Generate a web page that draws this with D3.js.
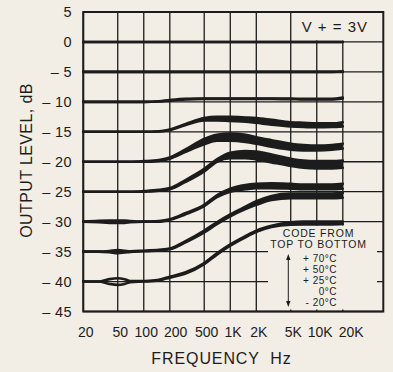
<!DOCTYPE html>
<html><head><meta charset="utf-8">
<script src="https://cdn.jsdelivr.net/npm/d3@7"></script>
<style>
html,body{margin:0;padding:0;background:#f2eee5;}
svg{display:block;}
text{font-family:"Liberation Sans",Arial,Helvetica,sans-serif;fill:#1c1c1c;}
</style></head><body>
<svg id="c" width="393" height="372"></svg>
<script>
// ---------------- data ----------------
const freqs = [20,30,40,50,60,70,100,150,200,300,500,700,1000,1500,2000,3000,5000,7000,10000,15000,20000];

// each input-level group: upper trace (+70°C side) and lower trace (-20°C side), dB
const g0Top  = [0,0,0,0,0,0,0,0,0,0,0,0,0,0,0,0,0,0,0,0,0];
const g0Bot  = [0,0,0,0,0,0,0,0,0,0,0,0,0,0,0,0,0,0,0,0,0];
const g5Top  = [-5,-5,-5,-5,-5,-5,-5,-5,-5,-5,-5,-5,-5,-5,-5,-5,-5,-5,-5,-5,-4.9];
const g5Bot  = [-5,-5,-5,-5,-5,-5,-5,-5,-5,-5,-5,-5,-5,-5,-5,-5,-5,-5,-5,-5,-5];
const g10Top = [-10,-10,-10,-10,-10,-10,-10,-9.9,-9.7,-9.5,-9.45,-9.45,-9.45,-9.45,-9.45,-9.45,-9.45,-9.5,-9.5,-9.5,-9.3];
const g10Bot = [-10,-10,-10,-10,-10,-10,-10,-9.95,-9.8,-9.6,-9.5,-9.5,-9.5,-9.5,-9.5,-9.5,-9.55,-9.6,-9.6,-9.6,-9.45];
const g15Top = [-15,-15,-15,-15,-15,-15,-15,-14.9,-14.6,-13.75,-12.7,-12.5,-12.5,-12.6,-12.7,-13.0,-13.4,-13.5,-13.6,-13.6,-13.4];
const g15Bot = [-15,-15,-15,-15,-15,-15,-15,-14.95,-14.7,-13.9,-13.1,-13.1,-13.2,-13.3,-13.5,-13.8,-14.1,-14.2,-14.25,-14.2,-14.1];
const g20Top = [-20,-20,-20,-20,-20,-20,-19.9,-19.7,-19.3,-18.0,-16.2,-15.5,-15.3,-15.5,-15.9,-16.4,-17.0,-17.2,-17.3,-17.2,-17.0];
const g20Bot = [-20,-20,-20,-20,-20,-20,-20,-19.85,-19.5,-18.4,-17.1,-16.5,-16.5,-16.7,-17.0,-17.5,-18.0,-18.1,-18.1,-18.0,-17.8];
const g25Top = [-25,-25,-25,-25,-25,-25,-24.9,-24.7,-24.4,-23.1,-21.2,-19.6,-18.5,-18.2,-18.3,-18.8,-19.5,-19.8,-19.9,-19.9,-19.8];
const g25Bot = [-25,-25,-25,-25,-25,-25,-25,-24.85,-24.6,-23.4,-21.6,-20.0,-19.4,-19.4,-19.6,-20.1,-20.7,-21.0,-21.1,-21.1,-21.0];
const g30Top = [-30,-29.85,-29.8,-29.8,-29.8,-29.9,-30,-29.9,-29.6,-28.6,-27.2,-25.6,-24.5,-23.9,-23.7,-23.6,-23.7,-23.8,-23.8,-23.8,-23.7];
const g30Bot = [-30,-30.1,-30.2,-30.2,-30.2,-30.1,-30,-30,-29.7,-28.8,-27.4,-25.9,-25.0,-24.6,-24.4,-24.4,-24.5,-24.6,-24.6,-24.6,-24.5];
const g35Top = [-35,-35,-34.9,-34.75,-34.85,-34.95,-34.85,-34.7,-34.5,-33.3,-31.5,-30.1,-28.8,-27.5,-26.6,-25.7,-25.3,-25.3,-25.3,-25.3,-25.2];
const g35Bot = [-35,-35,-35.1,-35.25,-35.15,-35.05,-34.95,-34.8,-34.6,-33.5,-31.8,-30.4,-29.1,-27.9,-27.2,-26.4,-26.1,-26.1,-26.1,-26.1,-26.0];
const g40Top = [-40,-40,-39.6,-39.45,-39.6,-39.9,-39.9,-39.7,-39.2,-38.5,-36.9,-35.3,-33.8,-32.4,-31.5,-30.7,-30.1,-30.0,-30.0,-30.0,-30.0];
const g40Bot = [-40,-40,-40.4,-40.55,-40.4,-40.1,-40,-39.8,-39.35,-38.7,-37.1,-35.5,-34.0,-32.6,-31.7,-30.9,-30.5,-30.45,-30.45,-30.45,-30.4];

const xTickValues = [20,50,100,200,500,1000,2000,5000,10000,20000];
const xTickLabels = ["20","50","100","200","500","1K","2K","5K","10K","20K"];
const yTickValues = [5,0,-5,-10,-15,-20,-25,-30,-35,-40,-45];
const yTickLabels = ["5","0","\u2013 5","\u2013 10","\u2013 15","\u2013 20","\u2013 25","\u2013 30","\u2013 35","\u2013 40","\u2013 45"];
const xTitle = "FREQUENCY  Hz";
const yTitle = "OUTPUT LEVEL, dB";
const supplyLabel = "V + = 3V";
const legendTitle = ["CODE FROM","TOP TO BOTTOM"];
const legendItems = ["+ 70\u00B0C","+ 50\u00B0C","+ 25\u00B0C","0\u00B0C","- 20\u00B0C"];

const groups = [
  [g0Top,g0Bot],[g5Top,g5Bot],[g10Top,g10Bot],[g15Top,g15Bot],[g20Top,g20Bot],
  [g25Top,g25Bot],[g30Top,g30Bot],[g35Top,g35Bot],[g40Top,g40Bot]
];

// ---------------- layout ----------------
const ink = "#1c1c1c", paper = "#f2eee5";
const left = 83.3, frameRight = 383.3;
const x = d3.scaleLog().domain([20,20000]).range([left, 342.8]);
const y = d3.scaleLinear().domain([5,-45]).range([12, 311.5]);

const svg = d3.select("#c");
svg.append("rect").attr("width",393).attr("height",372).attr("fill",paper);

// grid
const grid = svg.append("g").attr("stroke",ink).attr("stroke-width",1.3);
grid.selectAll("line.v").data(xTickValues).join("line")
  .attr("x1",d=>x(d)).attr("x2",d=>x(d)).attr("y1",y(5)).attr("y2",y(-45));
grid.selectAll("line.h").data(yTickValues).join("line")
  .attr("x1",left).attr("x2",frameRight).attr("y1",d=>y(d)).attr("y2",d=>y(d));

// paper patches behind annotations
svg.append("rect").attr("x",296).attr("y",y(5)+1).attr("width",86).attr("height",y(0)-y(5)-2.5).attr("fill",paper);
svg.append("rect").attr("x",268).attr("y",y(-30)+4).attr("width",109).attr("height",y(-45)-y(-30)-6).attr("fill",paper);

// frame
svg.append("rect").attr("x",left).attr("y",y(5)).attr("width",frameRight-left).attr("height",y(-45)-y(5))
  .attr("fill","none").attr("stroke",ink).attr("stroke-width",2);

// curves: upper and lower traces, spread between them filled where the traces fan out
const area = d3.area().defined((d,i)=>freqs[i]>=200)
  .x((d,i)=>x(freqs[i])).y0(d=>y(d[0])).y1(d=>y(d[1])).curve(d3.curveMonotoneX);
const line = d3.line().x((d,i)=>x(freqs[i])).y(d=>y(d)).curve(d3.curveMonotoneX);
const cg = svg.append("g");
groups.forEach(([top,bot])=>{
  const pairs = top.map((t,i)=>[t,bot[i]]);
  cg.append("path").attr("d",area(pairs)).attr("fill",ink);
  cg.append("path").attr("d",line(top)).attr("fill","none").attr("stroke",ink).attr("stroke-width",2.6).attr("stroke-linecap","round");
  cg.append("path").attr("d",line(bot)).attr("fill","none").attr("stroke",ink).attr("stroke-width",2.6).attr("stroke-linecap","round");
});

// axis labels
svg.append("g").selectAll("text").data(yTickValues).join("text")
  .attr("x",72).attr("y",d=>y(d)).attr("dy","0.36em").attr("text-anchor","end")
  .attr("font-size",14.5).attr("letter-spacing",0.4).text((d,i)=>yTickLabels[i]);

// x labels: centred a little right of each gridline, pushed right if they would touch
const xl = svg.append("g").selectAll("text").data(xTickValues).join("text")
  .attr("y",336.5).attr("text-anchor","middle").attr("font-size",14).text((d,i)=>xTickLabels[i]);
let prevRight = -Infinity;
xl.each(function(d){
  const w = this.getComputedTextLength();
  let cx = x(d) + 2.5;
  if (cx - w/2 < prevRight + 6) cx = prevRight + 6 + w/2;
  d3.select(this).attr("x", cx);
  prevRight = cx + w/2;
});

svg.append("text").attr("x",221.5).attr("y",363.5).attr("text-anchor","middle")
  .attr("font-size",16).attr("letter-spacing",0.9).style("white-space","pre").text(xTitle);
svg.append("text").attr("transform","translate(31.5,160.5) rotate(-90)").attr("text-anchor","middle")
  .attr("font-size",16).attr("letter-spacing",0.4).text(yTitle);

// supply annotation
svg.append("text").attr("x",368).attr("y",31.7).attr("text-anchor","end")
  .attr("font-size",15).attr("letter-spacing",1).text(supplyLabel);

// legend
svg.append("g").selectAll("text").data(legendTitle).join("text")
  .attr("x",318.5).attr("y",(d,i)=>236.7+i*11).attr("text-anchor","middle")
  .attr("font-size",10.5).attr("letter-spacing",0.8).text(d=>d);
svg.append("g").selectAll("text").data(legendItems).join("text")
  .attr("x",337).attr("y",(d,i)=>261.8+i*11).attr("text-anchor","end")
  .attr("font-size",10).attr("letter-spacing",0.5).text(d=>d);
const ax = 288.3, ay1 = 254, ay2 = 307;
svg.append("line").attr("x1",ax).attr("x2",ax).attr("y1",ay1+5).attr("y2",ay2-5).attr("stroke",ink).attr("stroke-width",1);
svg.append("path").attr("d",`M${ax},${ay1} L${ax-2.2},${ay1+6} L${ax+2.2},${ay1+6} Z`).attr("fill",ink);
svg.append("path").attr("d",`M${ax},${ay2} L${ax-2.2},${ay2-6} L${ax+2.2},${ay2-6} Z`).attr("fill",ink);
</script>
</body></html>
